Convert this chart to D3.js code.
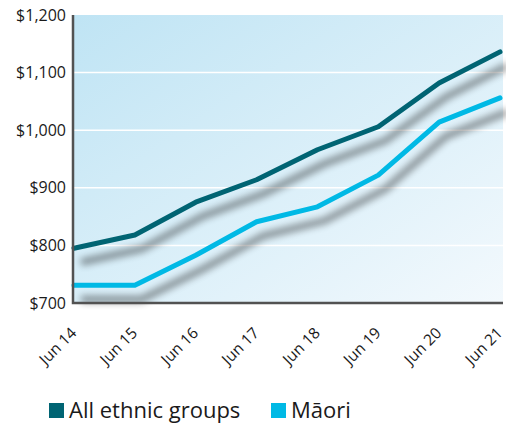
<!DOCTYPE html>
<html lang=en>
<head>
	<meta charset="utf-8">
	<title>income by ethnic group</title>
	<script src="https://cdn.jsdelivr.net/npm/d3@7"></script>
	<style>
		body { margin: 0; background: #fff; }
		text { font-family: "Open Sans", sans-serif; fill: #1a1a1a; }
	</style>
</head>

<body>
	<script type="text/javascript">
	var periods = ["Jun 14", "Jun 15", "Jun 16", "Jun 17", "Jun 18", "Jun 19", "Jun 20", "Jun 21"];
	var allGroups = [795, 818, 875, 914, 966, 1006, 1082, 1136];
	var maori = [731, 731, 783, 841, 867, 922, 1014, 1056];
	var yTicks = [700, 800, 900, 1000, 1100, 1200];
	var seriesNames = ["All ethnic groups", "Māori"];
	var seriesColors = ["#006473", "#00b9e5"];

	var W = 506, H = 423;
	var mLeft = 73, mRight = 503, mTop = 15, mBottom = 303;

	var svg = d3.select('body')
				.append('svg')
				.attr('width', W)
				.attr('height', H);

	var defs = svg.append('defs');
	var grad = defs.append('linearGradient')
				.attr('id', 'bg')
				.attr('x1', 0).attr('y1', 0)
				.attr('x2', 1).attr('y2', 1);
	grad.append('stop').attr('offset', '0%').attr('stop-color', '#bfe4f4');
	grad.append('stop').attr('offset', '100%').attr('stop-color', '#f3f9fd');

	var shadow = defs.append('filter')
				.attr('id', 'shadow')
				.attr('x', '-10%').attr('y', '-20%')
				.attr('width', '130%').attr('height', '160%');
	shadow.append('feGaussianBlur')
		.attr('in', 'SourceAlpha')
		.attr('stdDeviation', 3.5);

	var x = d3.scalePoint()
			.domain(periods)
			.range([mLeft + 1, mRight - 3]);

	var y = d3.scaleLinear()
			.domain([700, 1200])
			.range([mBottom, mTop]);

	svg.append('rect')
		.attr('x', mLeft)
		.attr('y', mTop)
		.attr('width', mRight - mLeft)
		.attr('height', mBottom - mTop)
		.attr('fill', 'url(#bg)');

	// gridlines
	svg.selectAll('line.grid')
		.data(yTicks.slice(1, -1))
		.enter()
		.append('line')
		.attr('class', 'grid')
		.attr('x1', mLeft)
		.attr('x2', mRight)
		.attr('y1', function(d){ return y(d); })
		.attr('y2', function(d){ return y(d); })
		.attr('stroke', '#fff')
		.attr('stroke-width', 1.5);

	var series = [allGroups, maori];

	var line = d3.line()
			.x(function(d, i){ return x(periods[i]); })
			.y(function(d){ return y(d); });

	// shadows first
	svg.append('g')
		.attr('transform', 'translate(7,14)')
		.selectAll('path')
		.data(series)
		.enter()
		.append('path')
		.attr('d', line)
		.attr('fill', 'none')
		.attr('stroke', '#000')
		.attr('stroke-width', 7)
		.attr('opacity', 0.4)
		.attr('filter', 'url(#shadow)');

	svg.append('g')
		.selectAll('path')
		.data(series)
		.enter()
		.append('path')
		.attr('d', line)
		.attr('fill', 'none')
		.attr('stroke', function(d, i){ return seriesColors[i]; })
		.attr('stroke-width', 5)
		.attr('stroke-linejoin', 'round')
		.attr('stroke-linecap', 'round');

	// axes
	var yAxis = d3.axisLeft(y)
			.tickValues(yTicks)
			.tickSize(0)
			.tickPadding(7)
			.tickFormat(function(d){ return '$' + d3.format(',')(d); });
	var gy = svg.append('g')
		.attr('transform', 'translate(' + mLeft + ',0)')
		.call(yAxis);
	gy.select('.domain').remove();
	gy.selectAll('text')
		.style('font-size', '16px')
		.attr('fill', '#1a1a1a');

	var xAxis = d3.axisBottom(x).tickSize(0).tickPadding(0);
	var gx = svg.append('g')
		.attr('transform', 'translate(0,' + mBottom + ')')
		.call(xAxis);
	gx.select('.domain').remove();
	gx.selectAll('text')
		.style('font-size', '15.5px')
		.attr('fill', '#1a1a1a')
		.attr('text-anchor', 'end')
		.attr('dy', 0)
		.attr('transform', 'translate(3,31) rotate(-45)');

	svg.append('path')
		.attr('d', 'M' + mLeft + ',' + mTop + 'V' + mBottom + 'H' + mRight)
		.attr('fill', 'none')
		.attr('stroke', '#525252')
		.attr('stroke-width', 2.5);

	// legend
	var legendX = [49, 271];
	var legend = svg.selectAll('g.legend')
		.data(seriesNames)
		.enter()
		.append('g')
		.attr('class', 'legend')
		.attr('transform', function(d, i){ return 'translate(' + legendX[i] + ',403)'; });
	legend.append('rect')
		.attr('width', 15)
		.attr('height', 15)
		.attr('fill', function(d, i){ return seriesColors[i]; });
	legend.append('text')
		.attr('x', 20)
		.attr('y', 15)
		.style('font-size', '22px')
		.text(function(d){ return d; });
	</script>
</body>
</html>
